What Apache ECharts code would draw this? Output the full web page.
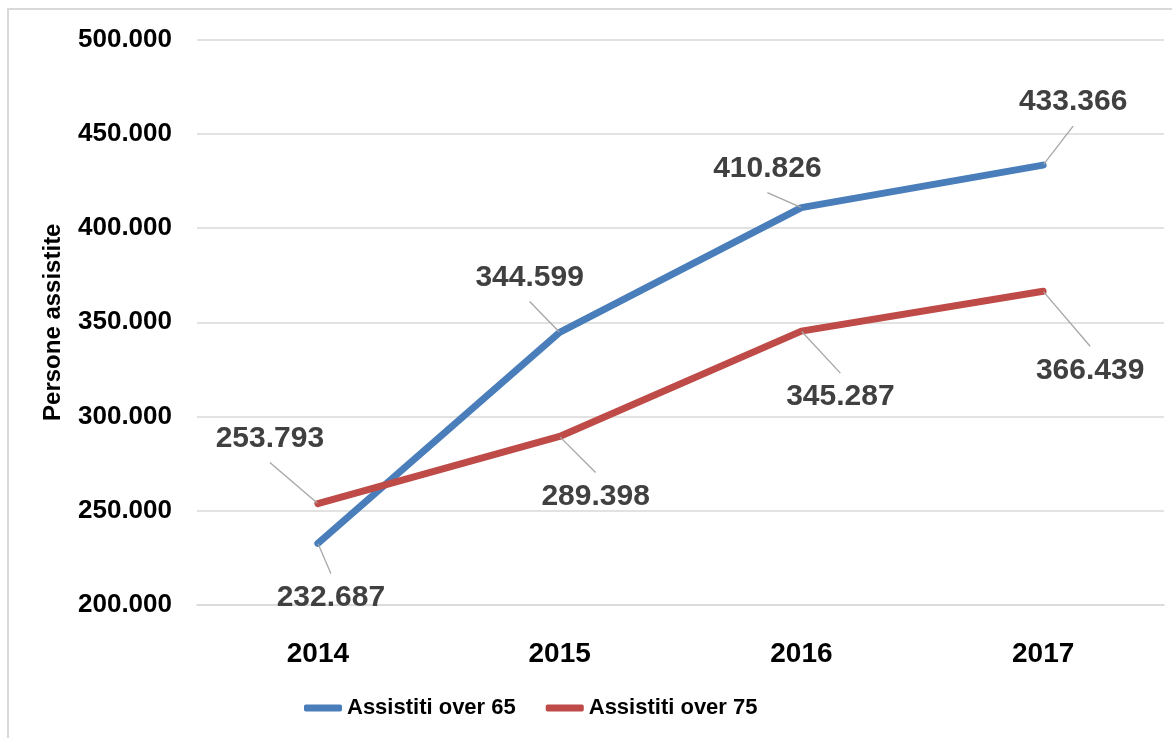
<!DOCTYPE html>
<html>
<head>
<meta charset="utf-8">
<script src="https://cdn.jsdelivr.net/npm/echarts@6/dist/echarts.min.js"></script>
<style>
html,body{margin:0;padding:0;background:#fff;}
#chart{width:1172px;height:738px;}
</style>
</head>
<body>
<div id="chart"></div>
<script>
// ---- data ----
var years = ['2014', '2015', '2016', '2017'];
var over65 = [232687, 344599, 410826, 433366];
var over75 = [253793, 289398, 345287, 366439];
var seriesNames = ['Assistiti over 65', 'Assistiti over 75'];
var yAxisName = 'Persone assistite';

// label offsets (label centre relative to point), per series
var offsets65 = [[13, 54], [-30, -55], [-34, -39], [30, -63]];
var offsets75 = [[-48, -65], [36, 60], [39, 66], [47, 79]];

function fmt(v) {
  return String(v).replace(/\B(?=(\d{3})+(?!\d))/g, '.');
}

var FONT = "'Liberation Sans', Arial, sans-serif";
var chart = echarts.init(document.getElementById('chart'), null, {renderer: 'canvas'});

function makeSeries(name, data, color, offs) {
  return {
    name: name,
    type: 'line',
    data: data,
    symbol: 'circle',
    symbolSize: 1,
    showSymbol: true,
    lineStyle: {color: color, width: 7, cap: 'round', join: 'round'},
    itemStyle: {color: color},
    label: {
      show: true,
      position: 'inside',
      formatter: function (p) { return fmt(p.value); },
      color: '#404040',
      fontFamily: FONT,
      fontWeight: 'bold',
      fontSize: 30,
      backgroundColor: 'rgba(255,255,255,0)',
      padding: [9, 40]
    },
    labelLine: {
      show: true,
      length2: 0,
      lineStyle: {color: '#a6a6a6', width: 1.3}
    },
    labelLayout: function (params) {
      var o = offs[params.dataIndex];
      return {dx: o[0], dy: o[1]};
    },
    emphasis: {disabled: true},
    animation: false
  };
}

chart.setOption({
  animation: false,
  backgroundColor: '#ffffff',
  graphic: [{
    type: 'rect',
    shape: {x: 8, y: 9, width: 1200, height: 800},
    style: {fill: 'none', stroke: '#d9d9d9', lineWidth: 2},
    silent: true,
    z: -10
  }],
  grid: {left: 197, right: 8, top: 39.5, bottom: 133},
  legend: {
    left: 299,
    top: 692,
    icon: 'roundRect',
    itemWidth: 38,
    itemHeight: 7,
    itemGap: 30,
    textStyle: {fontFamily: FONT, fontSize: 22, fontWeight: 'bold', color: '#000'},
    data: seriesNames
  },
  xAxis: {
    type: 'category',
    data: years,
    boundaryGap: true,
    axisLine: {show: true, lineStyle: {color: '#d9d9d9', width: 1.5}},
    axisTick: {show: false},
    axisLabel: {fontFamily: FONT, fontWeight: 'bold', fontSize: 28, color: '#000', margin: 35}
  },
  yAxis: {
    type: 'value',
    min: 200000,
    max: 500000,
    interval: 50000,
    name: yAxisName,
    nameLocation: 'middle',
    nameRotate: 90,
    nameGap: 132,
    nameTextStyle: {fontFamily: FONT, fontSize: 24, fontWeight: 'bold', color: '#000'},
    axisLine: {show: false},
    axisTick: {show: false},
    splitLine: {lineStyle: {color: '#d9d9d9', width: 1.5}},
    axisLabel: {
      fontFamily: FONT, fontWeight: 'bold', fontSize: 26, color: '#000', margin: 25,
      formatter: function (v) { return fmt(v); }
    }
  },
  series: [
    makeSeries(seriesNames[0], over65, '#4a7ebb', offsets65),
    makeSeries(seriesNames[1], over75, '#be4b48', offsets75)
  ]
});
</script>
</body>
</html>
